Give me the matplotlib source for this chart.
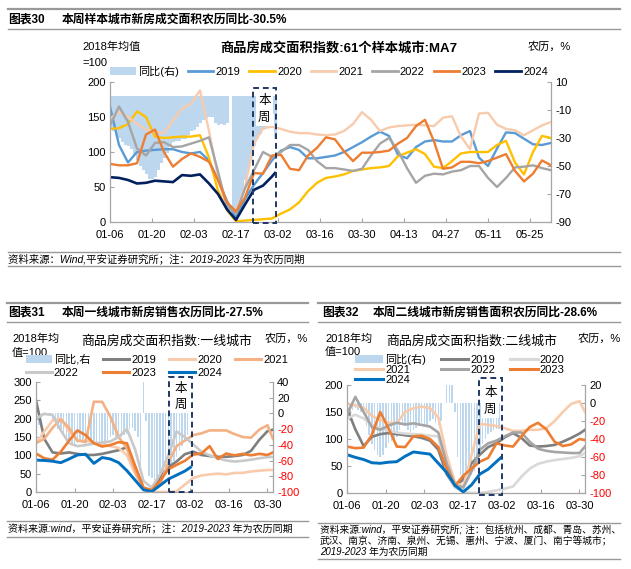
import matplotlib
matplotlib.use("Agg")
import matplotlib.pyplot as plt
import numpy as np
from matplotlib.patches import Rectangle, Patch
from matplotlib.lines import Line2D

plt.rcParams['font.family'] = ['Liberation Sans', 'Noto Sans CJK SC']
plt.rcParams['axes.unicode_minus'] = False

W, H = 631, 569

# ---------------- 图表30: 61个样本城市 MA7 ----------------
days_a = np.arange(0, 148, 3)          # 日序, 0 = 01-06
ticks_a = ['01-06', '01-20', '02-03', '02-17', '03-02', '03-16',
           '03-30', '04-13', '04-27', '05-11', '05-25']
yoy_a = [-24, -25, -28, -30, -33, -35, -36, -38, -42, -46,
         -50, -53, -56, -59, -59, -58, -53, -48, -44, -41,
         -36, -33, -32, -32, -31, -31, -28, -25, -24, -22,
         -19, -17, -16, -15, -15, -19, -21, -20, -21, -19,
         0, -84, -84, -82, -70, -60, -53, -44, -36, -31,
         -27, -24, -22, -16, -13, -30.5]
a2019 = [165, 110, 85, 100, 102, 103, 104, 104, 100, 98, 100, 88, 60, 30, 6, 33, 53, 70, 88, 102, 107,
         103, 91, 91, 93, 95, 100, 107, 114, 122, 129, 123, 96, 91, 107, 115, 117, 115, 115, 124, 130,
         92, 80, 105, 128, 127, 119, 111, 110, 113]
a2020 = [133, 134, 140, 158, 150, 122, 120, 121, 122, 122, 124, 92, 45, 17, 1, 2, 3, 4, 5, 12, 18,
         28, 44, 56, 63, 65, 68, 73, 75, 77, 78, 80, 94, 99, 104, 97, 79, 77, 87, 98, 100,
         100, 100, 110, 116, 85, 68, 100, 123, 120]
a2021 = [148, 157, 150, 140, 132, 129, 127, 145, 162, 169, 188, 130, 65, 18, 17, 50, 112, 134, 136, 133, 129,
         127, 127, 125, 124, 125, 130, 140, 157, 146, 130, 135, 137, 138, 139, 138, 137, 149, 151, 122, 104,
         155, 156, 139, 133, 131, 124, 131, 138, 143]
a2022 = [138, 165, 143, 105, 95, 113, 114, 107, 108, 112, 116, 121, 72, 22, 12, 48, 74, 100, 93, 100, 110,
         110, 103, 87, 77, 77, 75, 73, 76, 95, 112, 120, 102, 77, 56, 66, 69, 68, 72, 74, 80,
         80, 63, 50, 63, 78, 79, 81, 77, 74]
a2023 = [83, 81, 81, 84, 125, 132, 100, 79, 90, 98, 93, 86, 60, 28, 15, 35, 70, 69, 95, 96, 76,
         74, 95, 106, 121, 118, 101, 87, 99, 99, 100, 102, 112, 120, 137, 146, 115, 76, 78, 86, 86,
         84, 87, 92, 97, 73, 58, 69, 88, 81]
a2024 = [64, 63, 60, 55, 56, 59, 58, 57, 67, 66, 68, 55, 40, 18, 3, 25, 46, 52, 65, 70]
days_a24 = np.append(days_a[:19], 55)

# ---------------- 图表31: 一线城市 ----------------
days_b = np.append(np.arange(0, 85, 3), 86)
ticks_b = ['01-06', '01-20', '02-03', '02-17', '03-02', '03-16', '03-30']
yoy_b = [-20, -15, -5, 2, 1, -2, -10, -15, -20, -22,
         -25, -30, -35, -38, -40, -38, -36, -38, -40, -36,
         -34, -35, -38, -40, -42, -40, -36, -30, -28, -30,
         -32, -30, -28, -26, -20, -18, -22, -30, -72, 40,
         -10, -80, -82, -85, -83, -80, -78, -75, -72, -70,
         -60, -55, -48, -42, -35, -27.5]
b2019 = [250, 145, 108, 105, 108, 104, 101, 101, 104, 109, 114, 122, 68, 10, 5,
         40, 68, 83, 103, 110, 101, 98, 96, 96, 98, 101, 112, 142, 166, 170]
b2020 = [133, 165, 195, 200, 165, 140, 140, 135, 130, 125, 120, 100, 50, 10, 0,
         0, 0, 2, 20, 38, 45, 48, 50, 48, 52, 52, 56, 58, 60, 60]
b2021 = [133, 145, 175, 198, 175, 140, 137, 246, 246, 205, 150, 119, 55, 10, 2,
         20, 80, 125, 140, 155, 160, 168, 168, 168, 158, 150, 148, 170, 182, 145]
b2022 = [200, 213, 210, 168, 133, 125, 128, 132, 135, 138, 150, 172, 115, 30, 12,
         48, 100, 165, 150, 130, 110, 100, 92, 86, 83, 85, 88, 92, 95, 96]
b2023 = [105, 92, 88, 110, 140, 168, 155, 133, 124, 128, 136, 133, 70, 12, 5,
         30, 62, 74, 85, 102, 105, 125, 90, 105, 100, 104, 100, 104, 101, 108]
b2024 = [87, 86, 84, 80, 90, 101, 103, 78, 94, 90, 80, 58, 32, 6, 1, 18, 35, 46, 57, 67]
days_b24 = np.append(days_b[:19], 56)

# ---------------- 图表32: 二线城市 ----------------
yoy_c = [-26, -20, -8, -6, -8, -10, -12, -25, -35, -45,
         -52, -58, -60, -58, -50, -44, -42, -40, -38, -30,
         -24, -25, -30, -32, -30, -28, -25, -22, -24, -26,
         -20, -18, -22, -24, -20, 0, 25, 25, 25, -10,
         -60, -80, -84, -84, -82, -80, -75, -65, -55, -45,
         -40, -34, -32, -30, -29, -28.6]
c2019 = [157, 118, 87, 104, 109, 111, 109, 107, 105, 102, 97, 80, 35, 12, 25,
         55, 71, 85, 92, 103, 111, 102, 88, 86, 87, 89, 95, 102, 110, 117]
c2020 = [138, 145, 138, 126, 120, 115, 112, 110, 109, 108, 106, 105, 40, 10, 2,
         0, 0, 2, 5, 8, 12, 30, 45, 54, 58, 61, 63, 65, 68, 74]
c2021 = [166, 162, 158, 143, 135, 130, 130, 150, 157, 160, 157, 140, 70, 20, 12,
         70, 128, 126, 124, 120, 115, 115, 117, 117, 120, 133, 150, 165, 170, 150]
c2022 = [145, 178, 150, 122, 117, 125, 130, 127, 129, 126, 123, 112, 55, 15, 10,
         40, 80, 92, 97, 105, 112, 112, 95, 82, 78, 76, 75, 74, 74, 86]
c2023 = [86, 83, 84, 108, 150, 120, 86, 85, 105, 106, 100, 85, 45, 13, 32,
         45, 58, 65, 92, 88, 86, 105, 122, 130, 118, 95, 87, 90, 100, 98]
c2024 = [71, 66, 62, 56, 55, 57, 58, 68, 76, 74, 72, 55, 38, 14, 2, 15, 35, 44, 58, 65]
days_c24 = np.append(days_b[:19], 55.5)

BAR = '#BDD7EE'
GRID = '#A6A6A6'
NAVY = '#1F3864'

fig = plt.figure(figsize=(W / 100, H / 100), dpi=100)


def ftext(x, y, s, **kw):
    kw.setdefault('va', 'center')
    fig.text(x / W, 1 - y / H, s, **kw)


def hline(x0, x1, y, lw=1.0, color='#999999'):
    fig.add_artist(Line2D([x0 / W, x1 / W], [1 - y / H] * 2, lw=lw, color=color))


def make_axes(l, t, r, b):
    ax = fig.add_axes([l / W, 1 - b / H, (r - l) / W, (b - t) / H])
    axr = ax.twinx()
    ax.set_zorder(axr.get_zorder() + 1)
    ax.patch.set_visible(False)
    for a in (ax, axr):
        a.spines['top'].set_visible(False)
        for s in ('left', 'right', 'bottom'):
            a.spines[s].set_color(GRID)
            a.spines[s].set_linewidth(0.9)
        a.tick_params(direction='in', length=3, width=0.8, color=GRID, labelsize=8, pad=3)
    ax.tick_params(axis='x', pad=6)
    ax.spines['right'].set_visible(False)
    axr.spines['left'].set_visible(False)
    axr.spines['bottom'].set_visible(False)
    return ax, axr


def week_box(ax, x0, x1, y0, y1, ty):
    ax.add_patch(Rectangle((x0, y0), x1 - x0, y1 - y0, fill=False, ec=NAVY, lw=1.4,
                           ls=(0, (3, 2)), clip_on=False, zorder=5))
    ax.text((x0 + x1) / 2, ty, '本\n周', ha='center', va='center', fontsize=9,
            linespacing=1.5, zorder=6, bbox=dict(fc='white', ec='none', pad=1.5))


def neg_red(axr, vals):
    axr.set_yticks(vals)
    axr.set_yticklabels([str(v) for v in vals])
    for v, lab in zip(vals, axr.get_yticklabels()):
        lab.set_color('red' if v < 0 else 'black')


# ================= 图表30 =================
hline(8, 620, 9, lw=1.6)
ftext(8, 20, '图表30', fontsize=8.5, fontweight='bold')
ftext(62, 20, '本周样本城市新房成交面积农历同比-30.5%', fontsize=8.5, fontweight='bold')
hline(8, 620, 29, lw=1.0)

ax, axr = make_axes(110, 82, 551, 222)
axr.bar(np.arange(len(yoy_a)), yoy_a, width=1.0, color=BAR, linewidth=0)
cols_a = ['#5B9BD5', '#FFC000', '#F8CBAD', '#A5A5A5', '#ED7D31']
for ys, c in zip([a2019, a2020, a2021, a2022, a2023], cols_a):
    ax.plot(days_a, ys, color=c, lw=1.7)
ax.plot(days_a24, a2024, color='#002060', lw=1.9)
ax.set_xlim(0, 147)
ax.set_ylim(0, 200)
ax.set_yticks(range(0, 201, 50))
axr.set_ylim(-90, 10)
axr.set_yticks(range(-90, 11, 20))
ax.set_xticks(np.arange(0, 141, 14))
ax.set_xticklabels(ticks_a)
week_box(ax, 47.6, 55.3, -1.5, 191, 161)

ftext(339, 48, '商品房成交面积指数:61个样本城市:MA7', fontsize=9.5, fontweight='bold', ha='center')
ftext(82, 47, '2018年均值', fontsize=8)
ftext(82, 63, '=100', fontsize=8)
ftext(528, 47, '农历，%', fontsize=8)
h_a = [Patch(fc=BAR, ec='none')] + [Line2D([], [], color=c, lw=2) for c in cols_a + ['#002060']]
l_a = ['同比(右)', '2019', '2020', '2021', '2022', '2023', '2024']
fig.legend(h_a, l_a, ncol=7, loc='center', bbox_to_anchor=(329 / W, 1 - 71 / H), frameon=False,
           fontsize=8, handlelength=2.3, handletextpad=0.2, columnspacing=0.8, borderpad=0)

hline(8, 620, 252, lw=1.0)
ftext(8, 259, '资料来源：Wind,平安证券研究所；注：2019-2023 年为农历同期', fontsize=7.5, style='italic')
hline(8, 620, 266, lw=1.0)

# ================= 图表31 =================
hline(7, 308, 303, lw=1.6)
ftext(8, 313, '图表31', fontsize=8.5, fontweight='bold')
ftext(62, 313, '本周一线城市新房销售农历同比-27.5%', fontsize=8.5, fontweight='bold')
hline(7, 308, 322, lw=1.0)

ax, axr = make_axes(36, 382, 273, 492)
axr.bar(np.arange(len(yoy_b)), yoy_b, width=0.55, color=BAR, linewidth=0)
cols_b = ['#7F7F7F', '#F8CBAD', '#F4B183', '#C9C9C9', '#ED7D31']
for ys, c in zip([b2019, b2020, b2021, b2022, b2023], cols_b):
    ax.plot(days_b, ys, color=c, lw=1.9)
ax.plot(days_b24, b2024, color='#0070C0', lw=2.1)
ax.set_xlim(0, 86)
ax.set_ylim(0, 300)
ax.set_yticks(range(0, 301, 50))
axr.set_ylim(-100, 40)
neg_red(axr, list(range(-100, 41, 20)))
ax.set_xticks(np.arange(0, 85, 14))
ax.set_xticklabels(ticks_b)
week_box(ax, 48.3, 56.6, 0, 314, 259)

ftext(167, 341, '商品房成交面积指数:一线城市', fontsize=9.3, ha='center')
ftext(12, 339, '2018年均', fontsize=8)
ftext(12, 353, '值=100', fontsize=8)
ftext(265, 339, '农历，%', fontsize=8)
h_b = [Patch(fc=BAR, ec='none')] + [Line2D([], [], color=c, lw=2.2) for c in cols_b + ['#0070C0']]
l_b = ['同比,右', '2019', '2020', '2021', '2022', '2023', '2024']
order_b = [0, 4, 1, 5, 2, 6, 3]
fig.legend([h_b[i] for i in order_b], [l_b[i] for i in order_b], ncol=4, loc='center',
           bbox_to_anchor=(157 / W, 1 - 366 / H), frameon=False, fontsize=8, handlelength=2.3,
           handletextpad=0.2, columnspacing=1.2, labelspacing=0.25, borderpad=0)

hline(7, 308, 521, lw=1.0)
ftext(8, 529, '资料来源:wind，平安证券研究所；注：2019-2023 年为农历同期', fontsize=7.2, style='italic')
hline(7, 308, 537, lw=1.0)

# ================= 图表32 =================
hline(318, 620, 303, lw=1.6)
ftext(322, 313, '图表32', fontsize=8.5, fontweight='bold')
ftext(373, 313, '本周二线城市新房销售面积农历同比-28.6%', fontsize=8.5, fontweight='bold')
hline(318, 620, 322, lw=1.0)

ax, axr = make_axes(347, 385, 585, 493)
axr.bar(np.arange(len(yoy_c)), yoy_c, width=0.55, color=BAR, linewidth=0)
cols_c = ['#7F7F7F', '#D9D9D9', '#F8CBAD', '#A5A5A5', '#ED7D31']
for ys, c in zip([c2019, c2020, c2021, c2022, c2023], cols_c):
    ax.plot(days_b, ys, color=c, lw=1.9)
ax.plot(days_c24, c2024, color='#0070C0', lw=2.1)
ax.set_xlim(0, 86)
ax.set_ylim(0, 200)
ax.set_yticks(range(0, 201, 50))
axr.set_ylim(-100, 20)
neg_red(axr, list(range(-100, 21, 20)))
ax.set_xticks(np.arange(0, 85, 14))
ax.set_xticklabels(ticks_b)
week_box(ax, 47.7, 55.9, -3, 213, 170)

ftext(472, 341, '商品房成交面积指数:二线城市', fontsize=9.3, ha='center')
ftext(325, 339, '2018年均', fontsize=8)
ftext(325, 352, '值=100', fontsize=8)
ftext(578, 339, '农历，%', fontsize=8)
h_c = [Patch(fc=BAR, ec='none')] + [Line2D([], [], color=c, lw=2.2) for c in cols_c + ['#0070C0']]
l_c = ['同比(右)', '2019', '2020', '2021', '2022', '2023', '2024']
order_c = [0, 3, 6, 1, 4, 2, 5]
fig.legend([h_c[i] for i in order_c], [l_c[i] for i in order_c], ncol=3, loc='center',
           bbox_to_anchor=(460 / W, 1 - 369 / H), frameon=False, fontsize=8, handlelength=2.5,
           handletextpad=0.2, columnspacing=1.3, labelspacing=0.0, borderpad=0)

hline(318, 620, 523, lw=1.0)
ftext(320, 530, '资料来源:wind，平安证券研究所; 注：包括杭州、成都、青岛、苏州、', fontsize=7.0, style='italic')
ftext(320, 541, '武汉、南京、济南、泉州、无锡、惠州、宁波、厦门、南宁等城市；', fontsize=7.0, style='italic')
ftext(320, 552, '2019-2023 年为农历同期', fontsize=7.0, style='italic')
hline(318, 620, 559, lw=1.0)

fig.savefig('out.png', dpi=100)
